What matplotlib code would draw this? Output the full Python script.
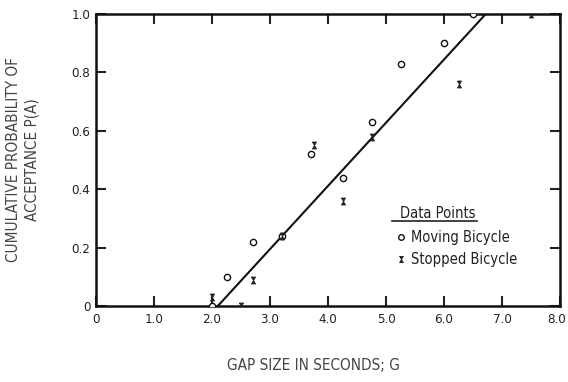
import matplotlib
matplotlib.use("Agg")
import matplotlib.pyplot as plt
from matplotlib.lines import Line2D
from matplotlib.path import Path
from matplotlib.transforms import ScaledTranslation

# Data
moving_gap = [2.0, 2.25, 2.7, 3.2, 3.7, 4.25, 4.75, 5.25, 6.0, 6.5]
moving_p = [0.0, 0.10, 0.22, 0.24, 0.52, 0.44, 0.63, 0.83, 0.90, 1.0]

stopped_gap = [2.0, 2.5, 2.7, 3.2, 3.75, 4.25, 4.75, 6.25, 7.5]
stopped_p = [0.03, 0.0, 0.09, 0.24, 0.55, 0.36, 0.58, 0.76, 1.0]

fit_gap = [2.1, 6.72]
fit_p = [0.0, 1.0]

x_ticks = [0, 1, 2, 3, 4, 5, 6, 7, 8]
x_labels = ["0", "1.0", "2.0", "3.0", "4.0", "5.0", "6.0", "7.0", "8.0"]
y_ticks = [0, 0.2, 0.4, 0.6, 0.8, 1.0]
y_labels = ["0", "0.2", "0.4", "0.6", "0.8", "1.0"]

plt.rcParams["font.family"] = ["DejaVu Sans"]
plt.rcParams["font.stretch"] = "condensed"

# hourglass marker used for the stopped bicycle points
hourglass = Path([(-0.6, 1), (0.6, 1), (-0.6, -1), (0.6, -1), (-0.6, 1)])

fig = plt.figure(figsize=(5.68, 3.82), dpi=100)
ax = fig.add_axes([96 / 568, 1 - 306 / 382, 464 / 568, 292 / 382])

ax.plot(fit_gap, fit_p, color="#111111", lw=1.5, zorder=2)
ax.plot(moving_gap, moving_p, ls="none", marker="o", ms=4.5, mfc="white",
        mec="#111111", mew=1.0, zorder=3, label="Moving Bicycle")
ax.plot(stopped_gap, stopped_p, ls="none", marker=hourglass, ms=5, mfc="#222222",
        mec="#222222", mew=0.6, zorder=3, label="Stopped Bicycle")

ax.set_xlim(0, 8)
ax.set_ylim(0, 1.0)
ax.set_xticks(x_ticks)
ax.set_xticklabels(x_labels)
ax.set_yticks(y_ticks)
ax.set_yticklabels(y_labels)
ax.tick_params(direction="in", length=7, width=1.5, top=True, right=True,
               labelsize=9.5, colors="#222222", pad=4)
ax.tick_params(axis="x", pad=5)
for s in ax.spines.values():
    s.set_linewidth(1.8)
    s.set_color("#111111")

# nudge the last x label so it stays inside the figure
last = ax.get_xticklabels()[-1]
last.set_transform(last.get_transform() + ScaledTranslation(-3 / 100, 0, fig.dpi_scale_trans))

# legend block
ax.text(0.655, 0.318, "Data Points", transform=ax.transAxes, fontsize=10.5,
        color="#222222", va="center", ha="left")
ax.add_line(Line2D([0.638, 0.821], [0.291, 0.291], transform=ax.transAxes,
                   color="#222222", lw=1.2))
handles = [
    Line2D([], [], ls="none", marker="o", ms=4, mfc="white", mec="#111111", mew=1.0),
    Line2D([], [], ls="none", marker=hourglass, ms=4.5, mfc="#222222", mec="#222222", mew=0.6),
]
ax.legend(handles, ["Moving Bicycle", "Stopped Bicycle"], loc="upper left",
          bbox_to_anchor=(0.625, 0.296), frameon=False, fontsize=10.5,
          handlelength=0.6, handletextpad=0.4, labelspacing=0.5, borderpad=0.2,
          labelcolor="#222222")

fig.text(313 / 568, 1 - 366 / 382, "GAP SIZE IN SECONDS; G", ha="center",
         va="center", fontsize=11, color="#444444")
fig.text(23 / 568, 1 - 160 / 382, "CUMULATIVE PROBABILITY OF\nACCEPTANCE P(A)",
         ha="center", va="center", rotation=90, fontsize=11, color="#444444",
         linespacing=1.25)

fig.savefig("out.png", dpi=100, facecolor="white")
